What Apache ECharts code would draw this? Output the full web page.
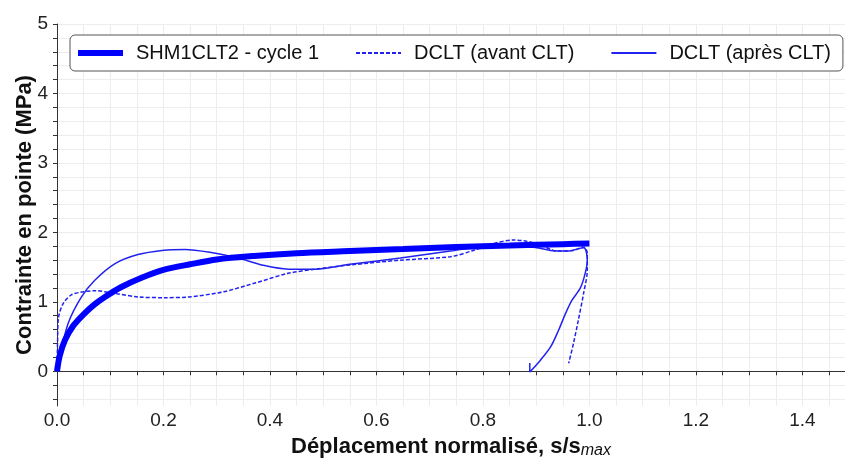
<!DOCTYPE html>
<html>
<head>
<meta charset="utf-8">
<script src="https://cdn.jsdelivr.net/npm/echarts@6/dist/echarts.min.js"></script>
<style>
  html, body { margin: 0; padding: 0; background: #fff; }
  #chart { width: 845px; height: 460px; }
</style>
</head>
<body>
<div id="chart"></div>
<script>
// Normalised displacement / tip stress curves
const shmX = [0, 0.005, 0.015, 0.03, 0.05, 0.07, 0.09, 0.12, 0.16, 0.2, 0.25, 0.3, 0.37, 0.45, 0.55, 0.65, 0.75, 0.85, 0.95, 1.0];
const shmY = [0, 0.22, 0.45, 0.65, 0.82, 0.96, 1.07, 1.21, 1.35, 1.46, 1.54, 1.61, 1.66, 1.70, 1.73, 1.76, 1.79, 1.81, 1.83, 1.84];

const avantX = [0, 0.001, 0.003, 0.012, 0.027, 0.046, 0.071, 0.109, 0.153, 0.203, 0.247, 0.31, 0.372, 0.434, 0.485, 0.55, 0.645, 0.739, 0.782, 0.82, 0.857, 0.883, 0.908, 0.939, 0.97, 0.989, 0.996, 0.996, 0.989, 0.979, 0.97, 0.961];
const avantY = [0, 0.4, 0.78, 0.98, 1.10, 1.14, 1.16, 1.12, 1.07, 1.06, 1.07, 1.14, 1.27, 1.41, 1.47, 1.53, 1.60, 1.65, 1.74, 1.84, 1.89, 1.87, 1.82, 1.73, 1.74, 1.79, 1.70, 1.46, 1.12, 0.73, 0.40, 0.115];

const apresX = [0, 0.005, 0.021, 0.046, 0.071, 0.109, 0.152, 0.197, 0.24, 0.29, 0.34, 0.385, 0.434, 0.485, 0.55, 0.645, 0.739, 0.80, 0.889, 0.927, 0.958, 0.989, 0.996, 0.992, 0.983, 0.967, 0.955, 0.942, 0.927, 0.908, 0.888, 0.888];
const apresY = [0, 0.2, 0.69, 1.07, 1.31, 1.55, 1.68, 1.74, 1.755, 1.71, 1.63, 1.53, 1.47, 1.47, 1.54, 1.63, 1.73, 1.79, 1.79, 1.74, 1.73, 1.78, 1.60, 1.41, 1.20, 1.02, 0.83, 0.59, 0.35, 0.16, -0.01, 0.12];

const xLabels = [0, 0.2, 0.4, 0.6, 0.8, 1.0, 1.2, 1.4];
const yLabels = [0, 1, 2, 3, 4, 5];
const yTicks = [-0.4, -0.2, 0, 0.2, 0.4, 0.6, 0.8, 1, 1.2, 1.4, 1.6, 1.8, 2, 2.2, 2.4, 2.6, 2.8, 3, 3.2, 3.4, 3.6, 3.8, 4, 4.2, 4.4, 4.6, 4.8, 5];

const seriesNames = ['SHM1CLT2 - cycle 1', 'DCLT (avant CLT)', 'DCLT (après CLT)'];

const pairs = (xs, ys) => xs.map((x, i) => [x, ys[i]]);

const FONT = '"Liberation Sans", Arial, sans-serif';

const chart = echarts.init(document.getElementById('chart'));

chart.setOption({
  animation: false,
  textStyle: { fontFamily: FONT },
  grid: {
    left: 57,
    right: 0,
    top: 24,
    bottom: 54,
    outerBoundsMode: 'none',
  },
  legend: {
    left: 70,
    top: 35,
    width: 800,
    padding: [8, 12, 8, 5],
    itemWidth: 45,
    itemHeight: 14,
    itemGap: 36,
    backgroundColor: '#fff',
    borderColor: '#555',
    borderWidth: 1,
    borderRadius: 5,
    itemStyle: { color: 'transparent', borderWidth: 0 },
    textStyle: { fontSize: 20, color: '#111', fontFamily: FONT, padding: [0, 0, 0, 8] },
    data: [
      { name: seriesNames[0], lineStyle: { width: 6 } },
      { name: seriesNames[1] },
      { name: seriesNames[2] },
    ],
  },
  xAxis: {
    type: 'value',
    min: 0,
    max: 1.48,
    interval: 0.05,
    name: '{b|Déplacement normalisé, s/s}{s|max}',
    nameLocation: 'middle',
    nameGap: 29,
    nameTextStyle: {
      rich: {
        b: { fontSize: 22, fontWeight: 'bold', color: '#111', fontFamily: FONT },
        s: { fontSize: 16, fontStyle: 'italic', color: '#111', fontFamily: FONT, verticalAlign: 'bottom', padding: [8, 0, 0, 0] },
      },
    },
    axisLine: { lineStyle: { color: '#333', width: 1 } },
    axisTick: { show: true, length: 4, lineStyle: { color: '#333' } },
    axisLabel: {
      customValues: xLabels,
      fontSize: 19,
      color: '#222',
      margin: 5,
      formatter: (v) => v.toFixed(1),
    },
    splitLine: { show: true, lineStyle: { color: '#ededed', width: 1 } },
  },
  yAxis: {
    type: 'value',
    min: -0.5,
    max: 5,
    name: 'Contrainte en pointe (MPa)',
    nameLocation: 'middle',
    nameGap: 21,
    nameMoveOverlap: false,
    nameTextStyle: { fontSize: 22, fontWeight: 'bold', color: '#111', fontFamily: FONT },
    axisLine: { show: true, lineStyle: { color: '#333', width: 1 } },
    axisTick: { show: true, length: 4, customValues: yTicks, lineStyle: { color: '#333' } },
    axisLabel: {
      customValues: yLabels,
      fontSize: 19,
      color: '#222',
      margin: 9,
    },
    splitLine: { show: true, lineStyle: { color: '#ededed', width: 1 } },
  },
  series: [
    {
      name: seriesNames[0],
      type: 'line',
      data: pairs(shmX, shmY),
      symbol: 'none',
      smooth: 0.3,
      lineStyle: { color: '#0000ff', width: 6 },
      itemStyle: { color: '#0000ff' },
      z: 3,
    },
    {
      name: seriesNames[1],
      type: 'line',
      data: pairs(avantX, avantY),
      symbol: 'none',
      smooth: 0.3,
      lineStyle: { color: '#2222ee', width: 1.5, type: [4, 2] },
      itemStyle: { color: '#2222ee' },
      z: 2,
    },
    {
      name: seriesNames[2],
      type: 'line',
      data: pairs(apresX, apresY),
      symbol: 'none',
      smooth: 0.3,
      lineStyle: { color: '#2222ee', width: 1.5 },
      itemStyle: { color: '#2222ee' },
      z: 2,
    },
  ],
});
</script>
</body>
</html>
